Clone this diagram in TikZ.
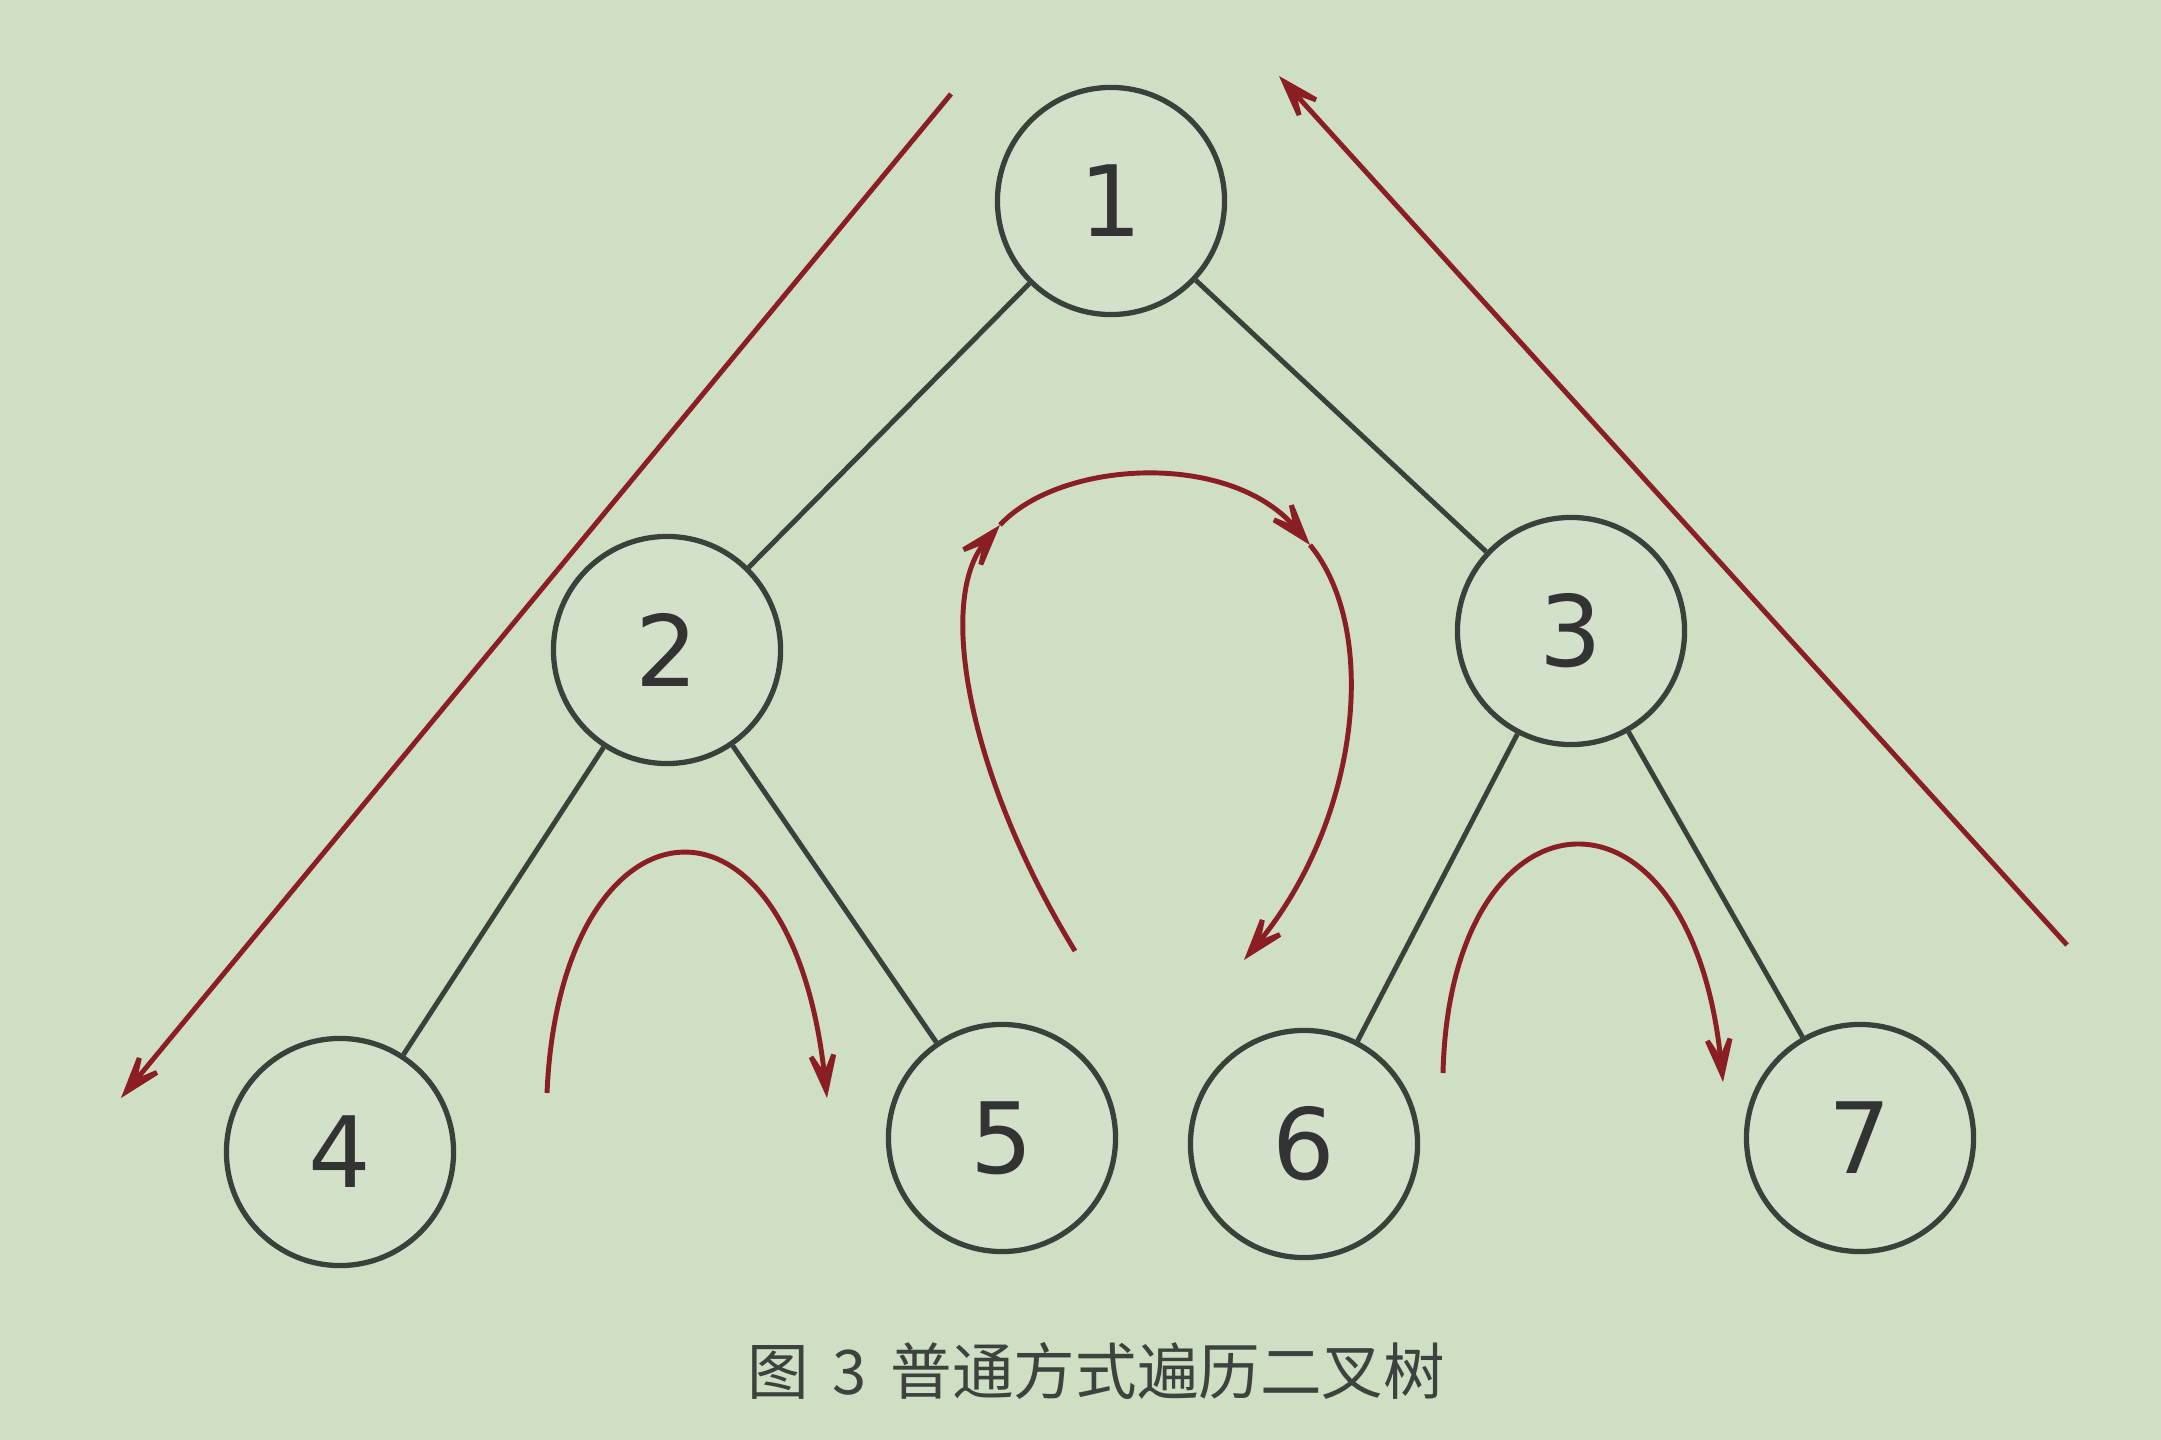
\documentclass[tikz,border=0pt]{standalone}
\usepackage{fontspec}
\setmainfont{DejaVu Sans}
\newfontfamily\cjk{Noto Sans CJK SC}
\usetikzlibrary{arrows.meta}
\definecolor{bg}{HTML}{CEDFC3}
\definecolor{nodefill}{HTML}{D3E1CA}
\definecolor{edgecol}{HTML}{3A403A}
\definecolor{redline}{HTML}{8A1E22}
\definecolor{captext}{HTML}{3E423E}
\tikzset{
  tnode/.style={circle, draw=edgecol, fill=nodefill, line width=1.5pt, minimum size=2.27cm, inner sep=0pt, font=\fontsize{28}{28}\selectfont, text=black!80},
  tedge/.style={draw=edgecol, line width=1.4pt},
  trav/.style={draw=redline, line width=1.4pt, -{Stealth[length=7mm,width=4.6mm,inset=4.4mm]}},
}
\begin{document}
\begin{tikzpicture}[x=0.01cm,y=-0.01cm]
\useasboundingbox[fill=bg] (0,0) rectangle (2161,1440);
\node[tnode] (n1) at (1111,201) {1};
\node[tnode] (n2) at (667,650) {2};
\node[tnode] (n3) at (1571,631) {3};
\node[tnode] (n4) at (340,1152) {4};
\node[tnode] (n5) at (1002,1138) {5};
\node[tnode] (n6) at (1304,1144) {6};
\node[tnode] (n7) at (1860,1138) {7};
\draw[tedge] (n1) -- (n2);
\draw[tedge] (n1) -- (n3);
\draw[tedge] (n2) -- (n4);
\draw[tedge] (n2) -- (n5);
\draw[tedge] (n3) -- (n6);
\draw[tedge] (n3) -- (n7);
% outer lines
\coordinate (la) at (951,94);
\coordinate (lb) at (121,1098);
\coordinate (ra) at (2067,945);
\coordinate (rb) at (1279,76);
\draw[trav] (la) -- (lb);
\draw[trav] (ra) -- (rb);
% small arcs
\coordinate (sa1) at (547,1093);
\coordinate (sa2) at (827,1098);
\draw[trav] (sa1) .. controls (560,790) and (790,760) .. (sa2);
\coordinate (sb1) at (1443,1073);
\coordinate (sb2) at (1723,1082);
\draw[trav] (sb1) .. controls (1450,780) and (1690,760) .. (sb2);
% big arc
\coordinate (ba0) at (1075,951);
\coordinate (ba1) at (1000,525);
\coordinate (ba2) at (1310,545);
\coordinate (ba3) at (1244,960);
\draw[trav] (ba0) .. controls (970,780) and (935,600) .. (ba1);
\draw[trav] (ba1) .. controls (1060,460) and (1230,450) .. (ba2);
\draw[trav] (ba2) .. controls (1380,630) and (1360,820) .. (ba3);
% caption
\node[text=captext, font=\cjk\fontsize{17.5}{17.5}\selectfont] (cap) at (1096,1371) {图\hspace{0.24cm}3\hspace{0.24cm}普通方式遍历二叉树};
\end{tikzpicture}
\end{document}
